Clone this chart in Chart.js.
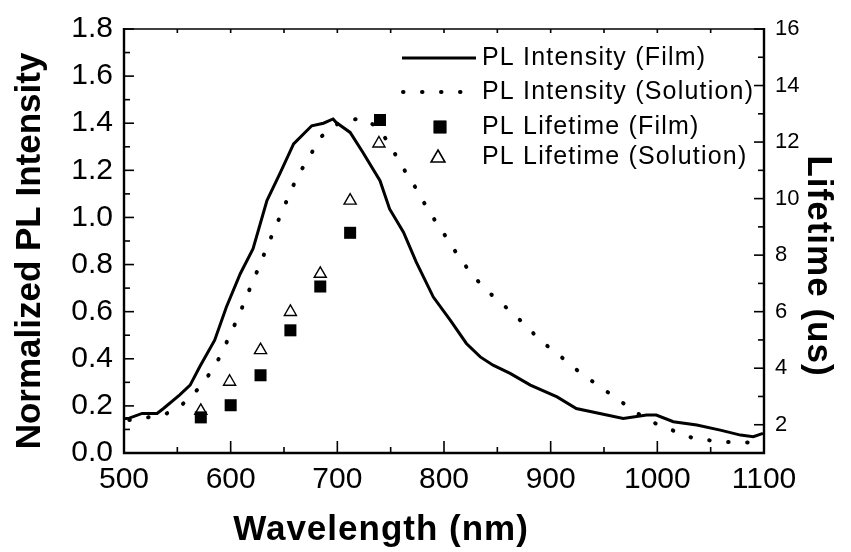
<!DOCTYPE html>
<html>
<head>
<meta charset="utf-8">
<title>PL Intensity / Lifetime</title>
<script src="https://cdn.jsdelivr.net/npm/chart.js@4/dist/chart.umd.min.js"></script>
<style>
  html, body { margin: 0; padding: 0; background: #fff; }
</style>
</head>
<body>
<canvas id="plChart" width="851" height="552"></canvas>
<script>
/* =========================
   DATA
========================= */

// PL intensity, film (solid line)
const filmWl = [500, 505, 517, 531, 537, 552, 562, 571, 585, 596, 609, 621, 634, 646, 659, 676, 687, 696, 699,
  712, 724, 740, 749, 762, 774, 790, 806, 821, 834, 846, 862, 881, 906, 924, 946, 968, 990, 999,
  1015, 1037, 1059, 1078, 1090, 1099];
const filmInt = [0.145, 0.148, 0.168, 0.168, 0.189, 0.246, 0.288, 0.366, 0.479, 0.62, 0.761, 0.867, 1.072, 1.185, 1.312, 1.389, 1.40, 1.418, 1.403,
  1.361, 1.276, 1.156, 1.036, 0.937, 0.81, 0.662, 0.563, 0.465, 0.408, 0.373, 0.338, 0.288, 0.238, 0.189, 0.168, 0.147, 0.161, 0.161,
  0.133, 0.119, 0.097, 0.076, 0.069, 0.083];

// PL intensity, solution (dotted line)
const solWl = [505, 518, 540, 554, 570, 582, 592, 599, 607, 614, 621, 628, 635, 642, 649, 656, 664, 674, 684,
  701, 712, 725, 738, 750, 759, 770, 780, 790, 801, 812, 824, 838, 857, 875, 890, 908, 926, 944, 962,
  980, 998, 1016, 1034, 1052, 1070, 1088, 1098];
const solInt = [0.14, 0.147, 0.168, 0.203, 0.274, 0.347, 0.425, 0.50, 0.575, 0.655, 0.73, 0.806, 0.885, 0.959, 1.032, 1.11, 1.185, 1.258, 1.34,
  1.40, 1.415, 1.42, 1.38, 1.305, 1.227, 1.153, 1.072, 0.998, 0.923, 0.846, 0.771, 0.698, 0.623, 0.549, 0.479, 0.415, 0.347, 0.288, 0.232,
  0.172, 0.126, 0.093, 0.062, 0.052, 0.045, 0.045, 0.05];

// PL lifetime (us), right axis
const lifeFilmWl = [572, 600, 628, 656, 684, 712, 740];
const lifeFilm = [2.26, 2.69, 3.75, 5.34, 6.89, 8.79, 12.78];
const lifeSolWl = [572, 599, 628, 656, 684, 712, 739];
const lifeSol = [2.49, 3.52, 4.64, 5.99, 7.34, 9.93, 11.95];

// ticks
const xTicks = [500, 600, 700, 800, 900, 1000, 1100];
const yTicks = [0, 0.2, 0.4, 0.6, 0.8, 1.0, 1.2, 1.4, 1.6, 1.8];
const y2Ticks = [2, 4, 6, 8, 10, 12, 14, 16];

const labels = ["PL Intensity (Film)", "PL Intensity (Solution)", "PL Lifetime (Film)", "PL Lifetime (Solution)"];


/* =========================
   HELPERS
========================= */

const FONT = "'Liberation Sans', Arial, Helvetica, sans-serif";

function toXY(xs, ys) {
  return xs.map((x, i) => ({ x: x, y: ys[i] }));
}

function fixTicks(values) {
  return scale => { scale.ticks = values.map(v => ({ value: v })); };
}

function midpoints(values) {
  const out = [];
  for (let i = 0; i < values.length - 1; i++) out.push((values[i] + values[i + 1]) / 2);
  return out;
}


/* =========================
   PLUGINS
========================= */

// frame + inward tick marks
const framePlugin = {
  id: "frame",
  afterDraw(chart) {
    const { ctx, chartArea: a, scales } = chart;
    ctx.save();
    ctx.strokeStyle = "#000";
    ctx.lineCap = "butt";

    // top line (thin)
    ctx.lineWidth = 1.5;
    ctx.beginPath();
    ctx.moveTo(a.left, a.top);
    ctx.lineTo(a.right, a.top);
    ctx.stroke();

    // left, bottom, right
    ctx.lineWidth = 2.4;
    ctx.beginPath();
    ctx.moveTo(a.left, a.top - 1);
    ctx.lineTo(a.left, a.bottom);
    ctx.lineTo(a.right, a.bottom);
    ctx.lineTo(a.right, a.top - 1);
    ctx.stroke();

    ctx.lineWidth = 1.6;
    const tick = (x1, y1, x2, y2) => { ctx.beginPath(); ctx.moveTo(x1, y1); ctx.lineTo(x2, y2); ctx.stroke(); };

    // x ticks (bottom inward + top small)
    xTicks.forEach(v => {
      const px = scales.x.getPixelForValue(v);
      tick(px, a.bottom, px, a.bottom - 12);
      tick(px, a.top, px, a.top + 4);
    });
    midpoints(xTicks).forEach(v => {
      const px = scales.x.getPixelForValue(v);
      tick(px, a.bottom, px, a.bottom - 6);
      tick(px, a.top, px, a.top + 4);
    });

    // left ticks
    yTicks.forEach(v => {
      const py = scales.y.getPixelForValue(v);
      tick(a.left, py, a.left + 10, py);
    });
    midpoints(yTicks).forEach(v => {
      const py = scales.y.getPixelForValue(v);
      tick(a.left, py, a.left + 6, py);
    });

    // right ticks
    y2Ticks.forEach(v => {
      const py = scales.y2.getPixelForValue(v);
      tick(a.right, py, a.right - 10, py);
    });
    midpoints(y2Ticks).forEach(v => {
      const py = scales.y2.getPixelForValue(v);
      tick(a.right, py, a.right - 6, py);
    });

    ctx.restore();
  }
};

// axis titles
const titlePlugin = {
  id: "titles",
  afterDraw(chart) {
    const { ctx } = chart;
    ctx.save();
    ctx.fillStyle = "#000";
    ctx.font = "bold 35px " + FONT;
    ctx.letterSpacing = "1px";
    ctx.textAlign = "center";
    ctx.textBaseline = "middle";

    ctx.fillText("Wavelength (nm)", 381, 530);

    ctx.save();
    ctx.translate(30, 251);
    ctx.rotate(-Math.PI / 2);
    ctx.letterSpacing = "0px";
    ctx.fillText("Normalized PL Intensity", 0, 0);
    ctx.restore();

    ctx.save();
    ctx.translate(818, 266);
    ctx.rotate(Math.PI / 2);
    ctx.letterSpacing = "1px";
    ctx.fillText("Lifetime (us)", 0, 0);
    ctx.restore();

    ctx.restore();
  }
};

// legend, top right inside the frame
const legendPlugin = {
  id: "plLegend",
  afterDraw(chart) {
    const { ctx } = chart;
    const rows = [58, 92, 127, 157];
    const textX = 482;
    ctx.save();
    ctx.fillStyle = "#000";
    ctx.strokeStyle = "#000";

    // solid line sample
    ctx.lineWidth = 3;
    ctx.beginPath();
    ctx.moveTo(402, rows[0]);
    ctx.lineTo(476, rows[0]);
    ctx.stroke();

    // dotted sample
    ctx.lineWidth = 4;
    ctx.lineCap = "round";
    ctx.setLineDash([0.5, 18.5]);
    ctx.beginPath();
    ctx.moveTo(403, rows[1]);
    ctx.lineTo(476, rows[1]);
    ctx.stroke();
    ctx.setLineDash([]);

    // square + triangle
    Chart.helpers.drawPoint(ctx, { pointStyle: "rect", radius: 9, borderWidth: 0 }, 440, rows[2]);
    ctx.fill();
    ctx.fillStyle = "#fff";
    ctx.lineWidth = 1.6;
    Chart.helpers.drawPoint(ctx, { pointStyle: "triangle", radius: 8, borderWidth: 1.6 }, 438, rows[3] + 1);
    ctx.fillStyle = "#000";

    ctx.font = "25px " + FONT;
    ctx.letterSpacing = "1.2px";
    ctx.textAlign = "left";
    ctx.textBaseline = "middle";
    labels.forEach((t, i) => ctx.fillText(t, textX, rows[i]));
    ctx.restore();
  }
};


/* =========================
   CHART
========================= */

const canvas = document.getElementById("plChart");

new Chart(canvas, {
  type: "line",
  data: {
    datasets: [
      {
        label: labels[0],
        data: toXY(filmWl, filmInt),
        yAxisID: "y",
        borderColor: "#000",
        borderWidth: 3,
        pointRadius: 0,
        tension: 0
      },
      {
        label: labels[1],
        data: toXY(solWl, solInt),
        yAxisID: "y",
        borderColor: "#000",
        borderWidth: 4,
        borderDash: [0.5, 18.5],
        borderCapStyle: "round",
        pointRadius: 0,
        tension: 0
      },
      {
        label: labels[2],
        data: toXY(lifeFilmWl, lifeFilm),
        yAxisID: "y2",
        showLine: false,
        pointStyle: "rect",
        pointRadius: 8.5,
        backgroundColor: "#000",
        borderColor: "#000",
        borderWidth: 0
      },
      {
        label: labels[3],
        data: toXY(lifeSolWl, lifeSol),
        yAxisID: "y2",
        showLine: false,
        pointStyle: "triangle",
        pointRadius: 7,
        backgroundColor: "#fff",
        borderColor: "#000",
        borderWidth: 1.4
      }
    ]
  },
  options: {
    responsive: false,
    animation: false,
    events: [],
    layout: { padding: { top: 28, left: 0, right: 0, bottom: 0 } },
    plugins: {
      legend: { display: false },
      tooltip: { enabled: false }
    },
    scales: {
      x: {
        type: "linear",
        min: 500,
        max: 1100,
        grid: { display: false, drawTicks: false },
        border: { display: false },
        afterBuildTicks: fixTicks(xTicks),
        afterFit: s => { s.height = 99; },
        ticks: {
          autoSkip: false,
          maxRotation: 0,
          padding: 9,
          color: "#000",
          font: { family: FONT, size: 30 },
          callback: v => String(v)
        }
      },
      y: {
        position: "left",
        min: 0,
        max: 1.8,
        grid: { display: false, drawTicks: false },
        border: { display: false },
        afterBuildTicks: fixTicks(yTicks),
        afterFit: s => { s.width = 124; },
        ticks: {
          padding: 11,
          color: "#000",
          font: { family: FONT, size: 30 },
          callback: v => Number(v).toFixed(1)
        }
      },
      y2: {
        position: "right",
        min: 1,
        max: 16,
        grid: { display: false, drawTicks: false },
        border: { display: false },
        afterBuildTicks: fixTicks(y2Ticks),
        afterFit: s => { s.width = 87; },
        ticks: {
          padding: 11,
          color: "#000",
          font: { family: FONT, size: 22 }
        }
      }
    }
  },
  plugins: [framePlugin, legendPlugin, titlePlugin]
});
</script>
</body>
</html>
